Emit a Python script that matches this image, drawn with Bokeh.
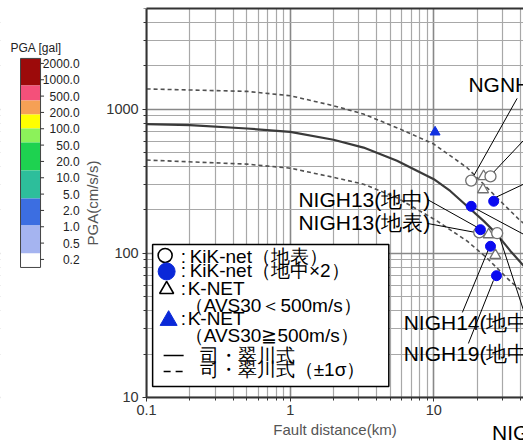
import numpy as np
from bokeh.plotting import figure
from bokeh.models import Range1d, FixedTicker, CustomJSTickFormatter, LogAxis
from bokeh.core.properties import value
from bokeh.embed import file_html
from bokeh.resources import INLINE

# ---------------- data ----------------
kik_surface_dist = [18.2, 24.8, 27.6, 20.7]
kik_surface_pga = [320, 342, 138, 140]
kik_borehole_dist = [26.1, 18.2, 21.1, 24.8, 27.3]
kik_borehole_pga = [230, 212, 146, 112, 70]
knet_soft_dist = [22.2, 22.0, 24.1, 26.8]
knet_soft_pga = [342, 277, 135, 97]
knet_hard_dist = [10.2]
knet_hard_pga = [694]

sm_dist = [0.1, 0.2, 0.5, 1, 2, 3.24, 5.54, 10, 13, 17, 22.2, 27.6, 34.1, 47.8, 60]
sm_pga = [789, 776, 735, 697, 614, 542, 439, 327, 271, 213, 168, 135, 104, 71.4, 55]
sm_plus_dist = [0.1, 0.5, 1, 2, 3.24, 5.84, 10, 17, 22.2, 29, 40.1, 47.8, 60]
sm_plus_pga = [1383, 1330, 1241, 1058, 926, 728, 573, 394, 302, 231, 168, 148, 120]
sm_minus_dist = [0.1, 0.5, 1, 2, 3.24, 5.54, 10.5, 17, 23.4, 34.1, 47.8, 60]
sm_minus_pga = [444, 416, 390, 337, 302, 243, 168, 122, 93, 64, 48, 38]

station_names = ["NGNH22(地表)", "NIGH13(地中)", "NIGH13(地表)", "NIGH14(地中)",
                 "NIGH19(地中)", "NIGH12(地中)"]
station_label_dist = [17.4, 1.14, 1.14, 6.16, 6.16, 25.4]
station_label_pga = [1486, 234.8, 163.8, 32.9, 20.2, 5.72]

leader_x0 = [38.0, 59.8, 59.8, 9.01, 9.01, 18.85, 28.6, 15.8, 17.4]
leader_y0 = [1189, 879, 356, 236.6, 161.3, 208.2, 130.9, 38.9, 23.7]
leader_x1 = [18.85, 25.4, 26.8, 20.1, 19.5, 59.8, 59.8, 24.0, 26.0]
leader_y1 = [342, 356, 244, 151.4, 139.7, 112.6, 13.8, 106.4, 64.9]

x_major_ticks = [0.1, 1, 10]
y_major_ticks = [10, 100, 1000]
x_minor_ticks = [m * 10.0 ** e for e in (-1, 0, 1) for m in range(2, 10) if m * 10.0 ** e < 50]
y_minor_ticks = [m * 10.0 ** e for e in (1, 2, 3) for m in range(2, 10) if m * 10.0 ** e <= 5000]
x_min, x_max = 0.1, 42.1
y_min, y_max = 10, 5000

cb_tick_labels = ["2000.0", "1000.0", "500.0", "200.0", "100.0", "50.0", "20.0",
                  "10.0", "5.0", "2.0", "1.0", "0.5", "0.2"]
cb_colors = ["#9c0a0a", "#f4507a", "#f6a055", "#ffff00", "#8cf25a", "#1ed250",
             "#2dbe9b", "#3c6ee1", "#a5b4f0", "#ffffff"]

FONT = "Liberation Sans"

# ---------------- geometry: plot area 146..523 x 8..397 px inside a 523x440 canvas ----------
W, H = 523, 440
FRAME_LEFT, FRAME_BOTTOM, FRAME_TOP = 146, 397, 8
DEC_X, DEC_Y = 143.5, 144.1

def px_to_x(px):
    return x_min * 10 ** ((px - FRAME_LEFT) / DEC_X)

def px_to_y(py):
    return y_min * 10 ** ((FRAME_BOTTOM - py) / DEC_Y)

p = figure(width=W, height=H, x_axis_type="log", y_axis_type="log",
           x_range=Range1d(px_to_x(0), x_max), y_range=Range1d(px_to_y(H), y_max),
           output_backend="svg", toolbar_location=None,
           min_border_left=0, min_border_right=0, min_border_top=FRAME_TOP, min_border_bottom=0)
p.outline_line_color = None
p.background_fill_color = "white"
p.border_fill_color = "white"

p.xaxis.ticker = FixedTicker(ticks=x_major_ticks, minor_ticks=x_minor_ticks)
p.yaxis.ticker = FixedTicker(ticks=y_major_ticks, minor_ticks=y_minor_ticks)
p.xaxis.fixed_location = y_min
p.yaxis.fixed_location = x_min
p.xaxis.bounds = (x_min, x_max)
p.yaxis.bounds = (y_min, y_max)
fmt = CustomJSTickFormatter(code="return tick.toString();")
p.xaxis.formatter = fmt
p.yaxis.formatter = fmt
for ax in (p.xaxis, p.yaxis):
    ax.axis_line_color = "#333333"
    ax.axis_line_width = 2
    ax.major_tick_line_color = "#333333"
    ax.minor_tick_line_color = "#333333"
    ax.major_tick_out = 4
    ax.major_tick_in = 0
    ax.minor_tick_out = 3
    ax.minor_tick_in = 0
    ax.major_label_text_font = FONT
    ax.major_label_text_font_size = "14.5px"
    ax.major_label_text_color = "#333333"
    ax.major_label_standoff = 4
    ax.axis_label_text_font = FONT
    ax.axis_label_text_font_size = "15px"
    ax.axis_label_text_font_style = "normal"
    ax.axis_label_text_color = "#555555"
p.xaxis.axis_label = "Fault distance(km)"
p.yaxis.axis_label = "PGA(cm/s/s)"
p.xaxis.axis_label_standoff = 2
p.yaxis.axis_label_standoff = 2

top_axis = LogAxis(ticker=FixedTicker(ticks=[]), major_label_text_font_size="0px",
                   major_tick_out=0, major_tick_in=0, minor_tick_out=0, minor_tick_in=0,
                   major_label_standoff=0, axis_line_color="#333333", axis_line_width=2,
                   bounds=(x_min, x_max))
p.add_layout(top_axis, "above")

p.grid.grid_line_color = "#888888"
p.grid.grid_line_width = 1.6
p.grid.minor_grid_line_color = "#a8a8a8"
p.grid.minor_grid_line_width = 1.2

# white margins outside the plotting area (hide grid overflow)
p.quad(left=[px_to_x(0), px_to_x(0)], right=[x_min, x_max],
       bottom=[px_to_y(H), px_to_y(H)], top=[y_max, y_min],
       fill_color="white", line_color=None)

# ---------------- colour bar (left margin) ----------------
cb_edges = [58, 85, 100, 114, 128, 142, 170, 198, 225, 253, 267]
p.quad(left=px_to_x(20), right=px_to_x(40), top=[px_to_y(v) for v in cb_edges[:-1]],
       bottom=[px_to_y(v) for v in cb_edges[1:]], fill_color=cb_colors, line_color=None)
p.quad(left=[px_to_x(20)], right=[px_to_x(40)], top=[px_to_y(58)], bottom=[px_to_y(267)],
       fill_color=None, line_color="#444444", line_width=1)
cb_tick_py = [63 + i * 16.33 for i in range(len(cb_tick_labels))]
p.segment(x0=px_to_x(40), x1=px_to_x(43.5), y0=[px_to_y(v) for v in cb_tick_py],
          y1=[px_to_y(v) for v in cb_tick_py], line_color="#333333", line_width=1)
p.text(x=px_to_x(79), y=[px_to_y(v) for v in cb_tick_py], text=cb_tick_labels,
       text_align="right", text_baseline="middle", text_font=value(FONT),
       text_font_size="12px", text_color="#222222")
p.text(x=[px_to_x(10)], y=[px_to_y(48)], text=["PGA [gal]"], text_align="left",
       text_baseline="middle", text_font=value(FONT), text_font_size="12px",
       text_color="#222222")

# ---------------- attenuation curves ----------------
p.line(sm_plus_dist, sm_plus_pga, line_color="#505050", line_width=1.6, line_dash="4 3")
p.line(sm_minus_dist, sm_minus_pga, line_color="#505050", line_width=1.6, line_dash="4 3")
p.line(sm_dist, sm_pga, line_color="#3a3a3a", line_width=2.2)

# leader lines
p.segment(x0=leader_x0, y0=leader_y0, x1=leader_x1, y1=leader_y1, line_color="black",
          line_width=1)

# observations
p.scatter(knet_soft_dist, knet_soft_pga, marker="triangle", size=11, fill_color="white",
          line_color="#707070", line_width=1.3)
p.scatter(kik_surface_dist, kik_surface_pga, marker="circle", size=11, fill_color="white",
          line_color="#707070", line_width=1.3)
p.scatter(kik_borehole_dist, kik_borehole_pga, marker="circle", size=10, fill_color="#0a0af0",
          line_color="#0a0af0")
p.scatter(knet_hard_dist, knet_hard_pga, marker="triangle", size=10, fill_color="#1030e0",
          line_color="#1030e0")

# station labels
p.text(x=station_label_dist, y=station_label_pga, text=station_names, text_align="left",
       text_baseline="middle", text_font=value(FONT), text_font_size="21px", text_color="black")

# ---------------- legend ----------------
p.quad(left=[px_to_x(152)], right=[px_to_x(388)], top=[px_to_y(244)], bottom=[px_to_y(386)],
       fill_color="white", line_color="black", line_width=1.5)

p.scatter([px_to_x(164.5)], [px_to_y(255)], marker="circle", size=14, fill_color="white",
          line_color="black", line_width=1.6)
p.scatter([px_to_x(166)], [px_to_y(271)], marker="circle", size=17, fill_color="#0a28d8",
          line_color="#0a28d8")
p.scatter([px_to_x(166)], [px_to_y(289)], marker="triangle", size=14, fill_color="white",
          line_color="black", line_width=1.6)
p.scatter([px_to_x(168)], [px_to_y(320)], marker="triangle", size=17, fill_color="#0a28d8",
          line_color="#0a28d8")
p.line([px_to_x(163), px_to_x(183)], [px_to_y(355), px_to_y(355)], line_color="black",
       line_width=1.6)
p.line([px_to_x(163), px_to_x(185)], [px_to_y(371), px_to_y(371)], line_color="black",
       line_width=1.6, line_dash="7 5")

legend_colon_y = [256, 270, 288, 318]
p.text(x=[px_to_x(180)] * 4, y=[px_to_y(v) for v in legend_colon_y], text=[":"] * 4,
       text_align="left", text_baseline="middle", text_font=value(FONT),
       text_font_size="19px", text_color="black")
legend_texts = ["KiK-net（地表）", "KiK-net（地中×2）", "K-NET", "（AVS30＜500m/s）",
                "K-NET", "（AVS30≧500m/s）", "司・翠川式", "司・翠川式（±1σ）"]
legend_tx = [189, 189, 187, 184, 187, 184, 199, 199]
legend_ty = [256, 270, 288, 305, 318, 335, 355, 369]
p.text(x=[px_to_x(v) for v in legend_tx], y=[px_to_y(v) for v in legend_ty], text=legend_texts,
       text_align="left", text_baseline="middle", text_font=value(FONT),
       text_font_size="19px", text_color="black")

open("out.html", "w").write(file_html(p, INLINE))
